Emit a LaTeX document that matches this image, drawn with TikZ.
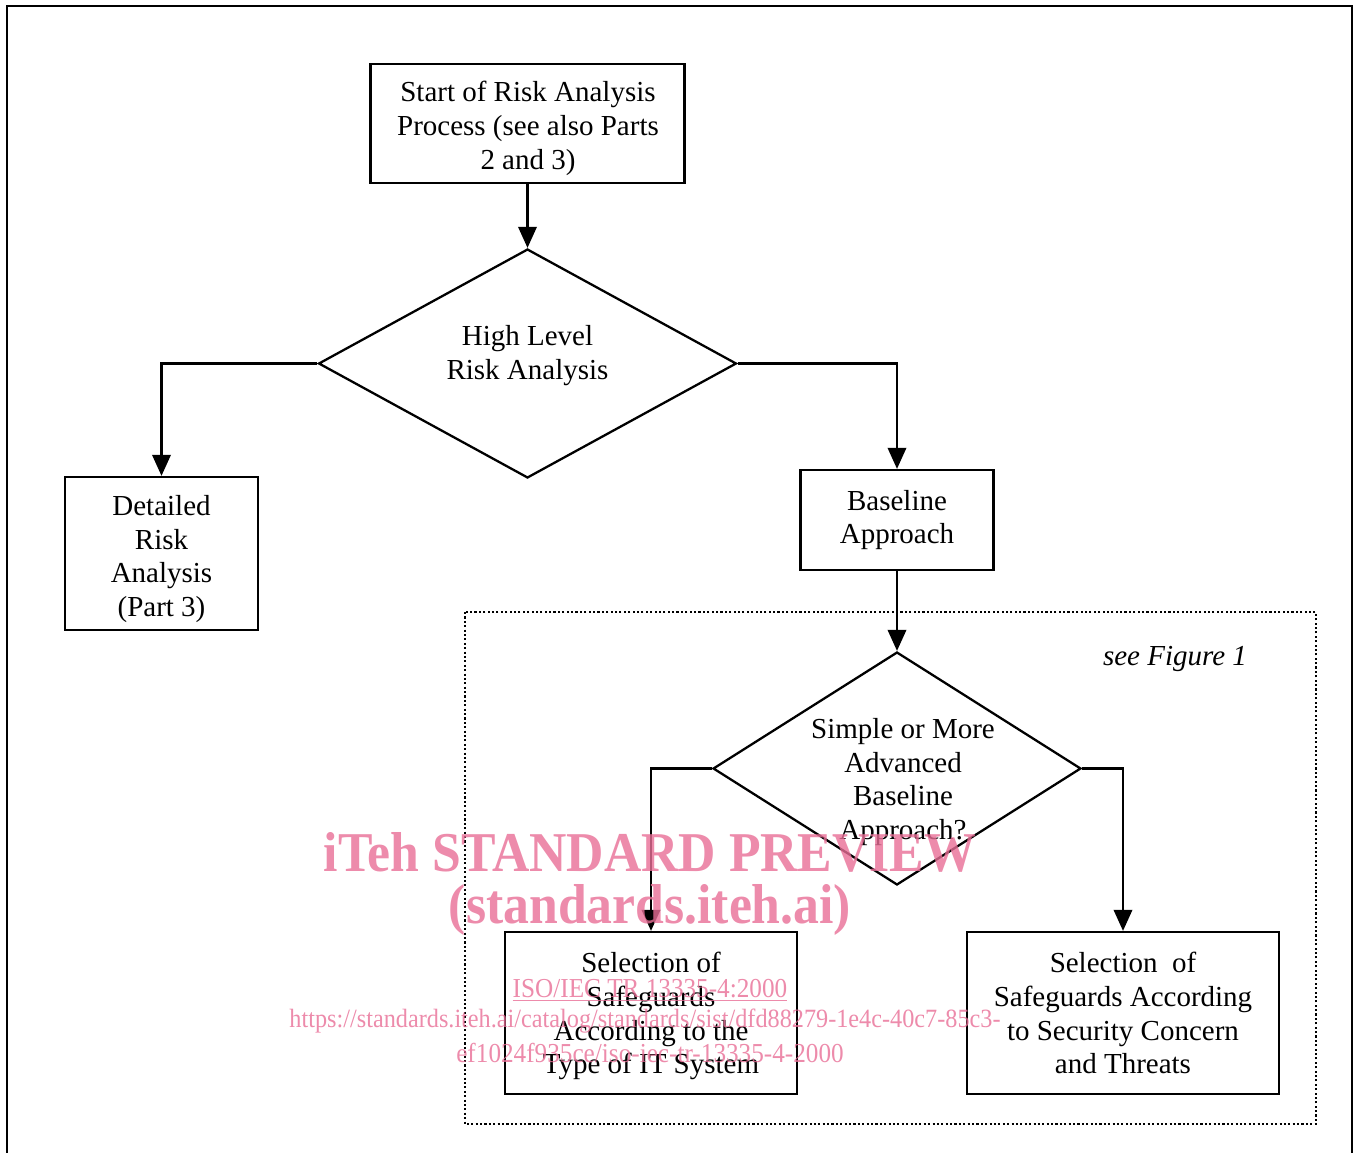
\documentclass[tikz,border=0pt]{standalone}
\usepackage{fontspec}
\setmainfont{Liberation Serif}
\newfontfamily\wmfont[FakeStretch=0.92]{Liberation Serif}
\usepackage{xcolor}
\usepackage{tikz}
\usetikzlibrary{arrows.meta,shapes.geometric}

\definecolor{wmpink}{RGB}{232,110,150}

\tikzset{
  box/.style={draw, line width=1.3pt, align=center, inner sep=2pt},
  decision/.style={draw, diamond, line width=1.3pt, inner sep=0pt},
  arr/.style={->, line width=1.3pt},
  wm/.style={text=wmpink, text opacity=0.8, inner sep=0pt},
}

\begin{document}
\begin{tikzpicture}[x=0.02cm, y=-0.02cm, >={Triangle[length=12pt,width=10.5pt]},
  font=\fontsize{16.5}{19.3}\selectfont]
\useasboundingbox (0,0) rectangle (1356,1153);

% Page frame
\draw[line width=1pt] (7,1153) -- (7,6) -- (1352,6) -- (1352,1153);

% Baseline part (see Figure 1)
\draw[line width=1pt, dash pattern=on 1.2pt off 1.3pt] (465,612) rectangle (1316,1124);
\node[font=\fontsize{16.5}{19.3}\selectfont\itshape] (seefig) at (1175,659) {see Figure 1};

% Boxes
\node[box, minimum width=6.28cm, minimum height=2.38cm] (start) at (527.5,123.5) {};
\node[align=center] (starttxt) at (528,128)
  {Start of Risk Analysis\\Process (see also Parts\\2 and 3)};
\node[decision, minimum width=8.36cm, minimum height=4.58cm] (hla) at (527.5,363.5) {};
\node[align=center] (hlatxt) at (527.5,356) {High Level\\Risk Analysis};
\node[box, minimum width=3.86cm, minimum height=3.06cm] (detail) at (161.5,553.5) {};
\node[align=center] (detailtxt) at (161.5,559) {Detailed\\Risk\\Analysis\\(Part 3)};
\node[box, minimum width=3.86cm, minimum height=2cm] (base) at (897,520)
  {Baseline\\Approach};
\node[decision, minimum width=7.36cm, minimum height=4.66cm] (sab) at (897,768.5) {};
\node[align=center] (sabtxt) at (903,782)
  {Simple or More\\Advanced\\Baseline\\Approach?};
\node[box, minimum width=5.84cm, minimum height=3.24cm] (selt) at (651,1013) {};
\node[align=center] (selttxt) at (651,1016)
  {Selection of\\Safeguards\\According to the\\Type of IT System};
\node[box, minimum width=6.24cm, minimum height=3.24cm] (selc) at (1123,1013)
  {Selection~~of\\Safeguards According\\to Security Concern\\and Threats};

% Connectors
\draw[arr] (start) -- (hla);
\draw[arr] (hla.west) -| (detail.north);
\draw[arr] (hla.east) -| (base.north);
\draw[arr] (base) -- (sab);
\draw[arr] (sab.west) -| (selt.north);
\draw[arr] (sab.east) -| (selc.north);

% Watermark
\node[wm, font=\wmfont\bfseries\fontsize{32}{36}\selectfont] (wm1) at (650,852) {iTeh STANDARD PREVIEW};
\node[wm, font=\wmfont\bfseries\fontsize{32}{36}\selectfont] (wm2) at (650,910) {(standards.iteh.ai)};
\node[wm, font=\wmfont\fontsize{15.6}{19}\selectfont] (wm3) at (650,990) {\underline{ISO/IEC TR 13335-4:2000}};
\node[wm, font=\wmfont\fontsize{15}{18}\selectfont] (wm4) at (645,1021)
  {https://standards.iteh.ai/catalog/standards/sist/dfd88279-1e4c-40c7-85c3-};
\node[wm, font=\wmfont\fontsize{15.6}{18}\selectfont] (wm5) at (650,1053)
  {ef1024f935ce/iso-iec-tr-13335-4-2000};
\end{tikzpicture}
\end{document}
